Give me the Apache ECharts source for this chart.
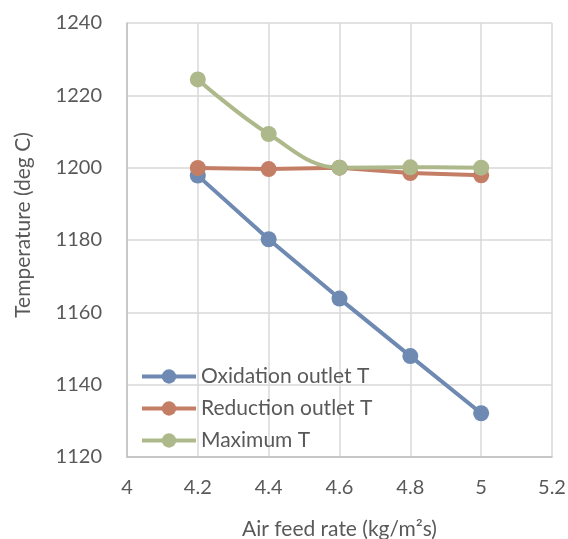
<!DOCTYPE HTML>
<html>
	<head>
		<meta charset="utf-8">
		<title></title>
		<style type="text/css">
			html, body { margin: 0; padding: 0; background: #fff; }
		</style>
	</head>
	<body>
		<div id="main" style="width: 568px;height:539px;"></div>
	</body>
	<script type="text/javascript" src="https://cdn.jsdelivr.net/npm/echarts@6/dist/echarts.min.js"></script>
	<script type="text/javascript">
		var airFeed = [4.2, 4.4, 4.6, 4.8, 5];
		var oxidationT = [1197.8, 1180.2, 1163.8, 1147.9, 1132.1];
		var reductionT = [1199.9, 1199.6, 1200.0, 1198.5, 1197.9];
		var maximumT = [1224.4, 1209.3, 1200.0, 1200.1, 1200.0];
		var seriesNames = ['Oxidation outlet T', 'Reduction outlet T', 'Maximum T'];

		function pairs(ys) {
			var res = [];
			for (var i = 0; i < airFeed.length; i++) {
				res.push([airFeed[i], ys[i]]);
			}
			return res;
		}

		var textColor = '#595959';
		var fontName = 'Lato';

		function lineSeries(name, ys, color, smooth) {
			return {
				name : name,
				type : 'line',
				data : pairs(ys),
				smooth : smooth,
				symbol : 'circle',
				symbolSize : 16,
				lineStyle : { width : 4, color : color },
				itemStyle : { color : color },
				emphasis : { disabled : true }
			};
		}

		option = {
			animation : false,
			textStyle : { fontFamily : fontName },
			grid : {
				left : 127,
				right : 16,
				top : 23,
				bottom : 82,
				outerBoundsMode : 'none'
			},
			legend : {
				orient : 'vertical',
				left : 135,
				top : 360,
				itemWidth : 54,
				itemHeight : 18,
				itemGap : 9,
				lineStyle : { width : 4 },
				textStyle : { color : textColor, fontSize : 21, lineHeight : 23, fontFamily : fontName },
				data : seriesNames
			},
			xAxis : {
				type : 'value',
				min : 4,
				max : 5.2,
				interval : 0.2,
				name : 'Air feed rate (kg/m²s)',
				nameLocation : 'middle',
				nameGap : 62,
				nameTextStyle : { color : textColor, fontSize : 21, fontFamily : fontName },
				axisLine : { lineStyle : { color : '#bfbfbf', width : 1.5 } },
				axisTick : { show : false },
				axisLabel : { color : textColor, fontSize : 20, margin : 21 },
				splitLine : { lineStyle : { color : '#d9d9d9', width : 1.5 } }
			},
			yAxis : {
				type : 'value',
				min : 1120,
				max : 1240,
				interval : 20,
				name : 'Temperature (deg C)',
				nameLocation : 'middle',
				nameGap : 93,
				nameTextStyle : { color : textColor, fontSize : 21, fontFamily : fontName, padding : [0, 0, 0, 30] },
				axisLine : { show : true, lineStyle : { color : '#bfbfbf', width : 1.5 } },
				axisTick : { show : false },
				axisLabel : {
					color : textColor,
					fontSize : 20,
					margin : 25,
					formatter : function(v) { return String(v); }
				},
				splitLine : { lineStyle : { color : '#d9d9d9', width : 1.5 } }
			},
			series : [
				lineSeries(seriesNames[0], oxidationT, '#6e8ab3', false),
				lineSeries(seriesNames[1], reductionT, '#c57e66', false),
				lineSeries(seriesNames[2], maximumT, '#adb98b', 0.4)
			]
		};

		var myChart = echarts.init(document.getElementById('main'));
		myChart.setOption(option);
	</script>
</html>
